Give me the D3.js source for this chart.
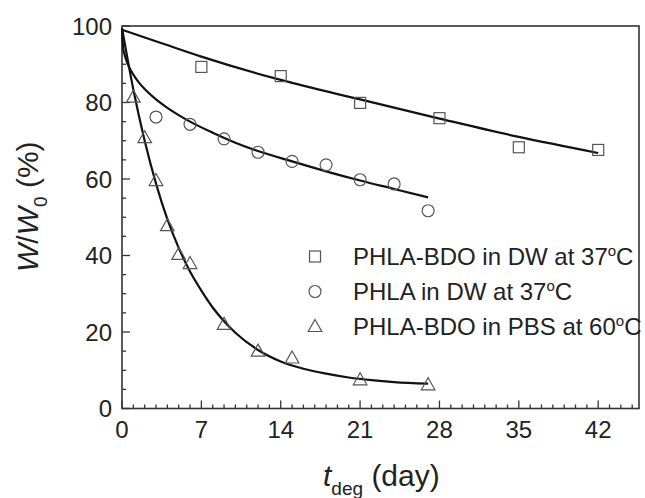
<!DOCTYPE html>
<html>
<head>
<meta charset="utf-8">
<script src="https://cdn.jsdelivr.net/npm/d3@7"></script>
<style>
  body { margin: 0; background: #fff; }
  text { font-family: "Liberation Sans", Arial, sans-serif; fill: #222; }
</style>
</head>
<body>
<svg id="chart" width="645" height="498"></svg>
<script>
// measured points (days, W/W0 %)
var sqDays = [7, 14, 21, 28, 35, 42];
var sqW = [89.3, 86.9, 79.9, 75.9, 68.3, 67.6];
var ciDays = [3, 6, 9, 12, 15, 18, 21, 24, 27];
var ciW = [76.2, 74.3, 70.5, 67.0, 64.6, 63.7, 59.8, 58.7, 51.7];
var trDays = [1, 2, 3, 4, 5, 6, 9, 12, 15, 21, 27];
var trW = [81.4, 70.8, 59.6, 47.8, 40.3, 37.9, 22.0, 15.0, 13.2, 7.5, 6.2];

// fitted curves
var sqFitDays = [0, 3.5, 7, 14, 21, 28, 35, 42];
var sqFitW = [99, 95.5, 92.0, 85.9, 80.8, 75.8, 71.0, 66.8];
var ciFitDays = [0, 0.1, 0.25, 0.5, 1, 1.5, 2, 3, 4, 5, 6, 8, 10, 12, 15, 18, 21, 24, 27];
var ciFitW = [99, 94.3, 92.3, 90.1, 87.3, 85.2, 83.5, 80.8, 78.6, 76.7, 75.0, 72.1, 69.5, 67.3, 64.6, 62.0, 59.6, 57.4, 55.2];
var trFitDays = [0, 1, 2, 3, 4, 5, 6, 7, 8, 9, 10, 12, 14, 16, 18, 20, 22, 24, 27];
var trFitW = [99.5, 83.4, 70.0, 58.8, 49.5, 42.0, 35.8, 30.8, 26.4, 22.8, 19.8, 15.3, 12.3, 10.4, 9.1, 8.1, 7.4, 6.9, 6.5];

var xTicks = [0, 7, 14, 21, 28, 35, 42];
var yTicks = [0, 20, 40, 60, 80, 100];
var legendLabels = ["PHLA-BDO in DW at 37", "PHLA in DW at 37", "PHLA-BDO in PBS at 60"];

var svg = d3.select("#chart");
var x = d3.scaleLinear().domain([0, 45.6]).range([122, 639]);
var y = d3.scaleLinear().domain([0, 100]).range([408.5, 26]);

var axisColor = "#333";

// minor + major ticks, pointing inward
var xMinor = d3.range(0, 46, 1);
svg.selectAll(".xt").data(xMinor).enter().append("line")
  .attr("x1", d => x(d)).attr("x2", d => x(d))
  .attr("y1", y(0)).attr("y2", d => y(0) - (d % 7 === 0 ? 8 : 4))
  .attr("stroke", axisColor).attr("stroke-width", 1.3);

var yMinor = d3.range(0, 101, 5);
svg.selectAll(".yt").data(yMinor).enter().append("line")
  .attr("y1", d => y(d)).attr("y2", d => y(d))
  .attr("x1", x(0)).attr("x2", d => x(0) + (d % 20 === 0 ? 8 : 4))
  .attr("stroke", axisColor).attr("stroke-width", 1.3);

// frame
svg.append("rect")
  .attr("x", x(0)).attr("y", y(100))
  .attr("width", x.range()[1] - x(0)).attr("height", y(0) - y(100))
  .attr("fill", "none").attr("stroke", axisColor).attr("stroke-width", 1.6);

// tick labels
svg.selectAll(".xl").data(xTicks).enter().append("text")
  .attr("x", d => x(d)).attr("y", 438)
  .attr("text-anchor", "middle").attr("font-size", 24)
  .text(d => d);

svg.selectAll(".yl").data(yTicks).enter().append("text")
  .attr("x", 112).attr("y", d => y(d) + 8.5)
  .attr("text-anchor", "end").attr("font-size", 24)
  .text(d => d);

// fitted lines
var line = d3.line().x(d => x(d[0])).y(d => y(d[1])).curve(d3.curveMonotoneX);
[[sqFitDays, sqFitW], [ciFitDays, ciFitW], [trFitDays, trFitW]].forEach(function(s) {
  svg.append("path")
    .datum(d3.zip(s[0], s[1]))
    .attr("d", line)
    .attr("fill", "none").attr("stroke", "#111").attr("stroke-width", 2.2);
});

// markers
var mk = "#555";
function square(g, cx, cy) {
  g.append("rect").attr("x", cx - 5.5).attr("y", cy - 5.5).attr("width", 11).attr("height", 11)
    .attr("fill", "none").attr("stroke", mk).attr("stroke-width", 1.2);
}
function circle(g, cx, cy) {
  g.append("circle").attr("cx", cx).attr("cy", cy).attr("r", 6)
    .attr("fill", "none").attr("stroke", mk).attr("stroke-width", 1.2);
}
function triangle(g, cx, cy) {
  g.append("path")
    .attr("d", "M" + cx + "," + (cy - 7) + "L" + (cx + 6.8) + "," + (cy + 5) + "L" + (cx - 6.8) + "," + (cy + 5) + "Z")
    .attr("fill", "none").attr("stroke", mk).attr("stroke-width", 1.2);
}

sqDays.forEach((d, i) => square(svg, x(d), y(sqW[i])));
ciDays.forEach((d, i) => circle(svg, x(d), y(ciW[i])));
trDays.forEach((d, i) => triangle(svg, x(d), y(trW[i])));

// legend
var legY = [256.5, 291.5, 326.5];
var drawers = [square, circle, triangle];
legendLabels.forEach(function(lbl, i) {
  drawers[i](svg, 315, legY[i]);
  var t = svg.append("text").attr("x", 353).attr("y", legY[i] + 8.5).attr("font-size", 24);
  t.append("tspan").text(lbl);
  t.append("tspan").attr("font-size", 15).attr("dy", -9).text("o");
  t.append("tspan").attr("dy", 9).text("C");
});

// axis titles
var xt = svg.append("text").attr("x", 323).attr("y", 486).attr("font-size", 30);
xt.append("tspan").attr("font-style", "italic").text("t");
xt.append("tspan").attr("font-size", 19).attr("dy", 9).text("deg");
xt.append("tspan").attr("dy", -9).text(" (day)");

var yt = svg.append("text")
  .attr("transform", "translate(38,272) rotate(-90)")
  .attr("text-anchor", "start").attr("font-size", 30);
yt.append("tspan").attr("font-style", "italic").text("W");
yt.append("tspan").text("/");
yt.append("tspan").attr("font-style", "italic").text("W");
yt.append("tspan").attr("font-size", 19).attr("dy", 9).text("0");
yt.append("tspan").attr("dy", -9).text("\u00a0(%)");
</script>
</body>
</html>
